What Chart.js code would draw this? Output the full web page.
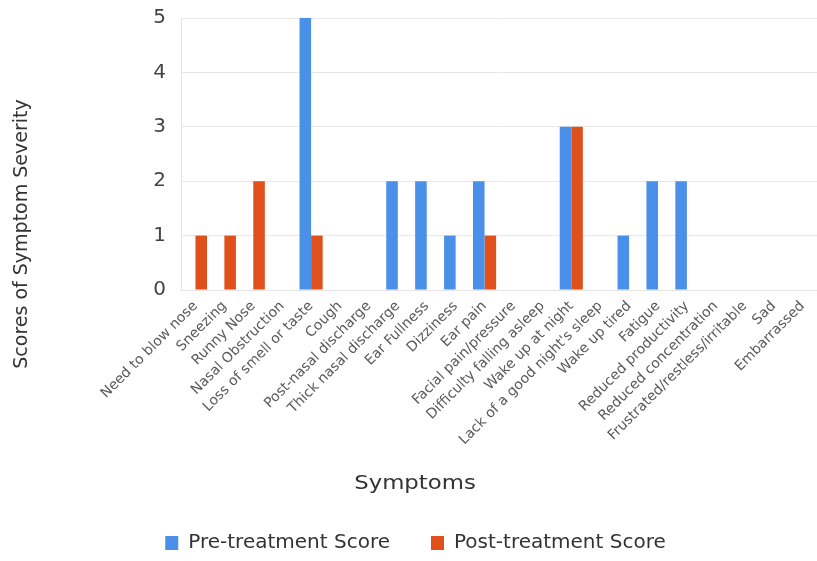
<!DOCTYPE html>
<html>
<head>
<meta charset="utf-8">
<script src="https://cdn.jsdelivr.net/npm/chart.js@4/dist/chart.umd.min.js"></script>
<style>
  html, body { margin: 0; padding: 0; background: #ffffff; }
  #wrap { width: 817px; height: 561px; position: relative; }
</style>
</head>
<body>
<div id="wrap"><canvas id="chart" width="817" height="561"></canvas></div>
<script>
// Symptom categories along the x axis
const symptoms = [
  "Need to blow nose", "Sneezing", "Runny Nose", "Nasal Obstruction",
  "Loss of smell or taste", "Cough", "Post-nasal discharge", "Thick nasal discharge",
  "Ear Fullness", "Dizziness", "Ear pain", "Facial pain/pressure",
  "Difficulty falling asleep", "Wake up at night", "Lack of a good night's sleep",
  "Wake up tired", "Fatigue", "Reduced productivity", "Reduced concentration",
  "Frustrated/restless/irritable", "Sad", "Embarrassed"
];

// Severity scores before and after treatment
const preTreatment  = [0, 0, 0, 0, 5, 0, 0, 2, 2, 1, 2, 0, 0, 3, 0, 1, 2, 2, 0, 0, 0, 0];
const postTreatment = [1, 1, 2, 0, 1, 0, 0, 0, 0, 0, 1, 0, 0, 3, 0, 0, 0, 0, 0, 0, 0, 0];

const yTicks = [0, 1, 2, 3, 4, 5];

const FONT = "'DejaVu Sans', 'Open Sans', sans-serif";

// Axis titles drawn as plain canvas text so they sit where the layout needs them
const axisTitles = {
  id: 'axisTitles',
  afterDraw(chart) {
    const ctx = chart.ctx;
    ctx.save();
    ctx.fillStyle = '#333333';
    ctx.font = '19px ' + FONT;
    ctx.textAlign = 'center';
    ctx.textBaseline = 'middle';
    ctx.save();
    ctx.translate(415, 484);
    ctx.scale(1.2, 1);
    ctx.fillText('Symptoms', 0, 0);
    ctx.restore();
    ctx.translate(22, 234);
    ctx.rotate(-Math.PI / 2);
    ctx.fillText('Scores of Symptom Severity', 0, 0);
    ctx.restore();
  }
};

new Chart(document.getElementById('chart'), {
  type: 'bar',
  data: {
    labels: symptoms,
    datasets: [
      {
        label: 'Pre-treatment Score',
        data: preTreatment,
        backgroundColor: '#4a8fe8',
        borderWidth: 0,
        categoryPercentage: 0.8,
        barPercentage: 1.0
      },
      {
        label: 'Post-treatment Score',
        data: postTreatment,
        backgroundColor: '#e0501a',
        borderWidth: 0,
        categoryPercentage: 0.8,
        barPercentage: 1.0
      }
    ]
  },
  options: {
    responsive: false,
    animation: false,
    devicePixelRatio: 1,
    layout: { padding: { top: 0, right: 0, bottom: -2, left: 14 } },
    plugins: {
      legend: {
        position: 'bottom',
        labels: {
          font: { family: FONT, size: 20 },
          color: '#333333',
          boxWidth: 13,
          boxHeight: 14,
          padding: 41,
          generateLabels(chart) {
            return chart.data.datasets.map((ds, i) => ({
              text: ds.label,
              fillStyle: ds.backgroundColor,
              strokeStyle: ds.backgroundColor,
              lineWidth: 0,
              hidden: false,
              datasetIndex: i,
              fontColor: '#333333'
            }));
          }
        }
      },
      tooltip: { enabled: false },
      title: { display: false }
    },
    scales: {
      x: {
        grid: { display: false },
        border: { display: true, color: '#e4e4e4' },
        ticks: {
          autoSkip: false,
          maxRotation: 45,
          minRotation: 45,
          font: { family: FONT, size: 14 },
          color: '#5a5a5a',
          padding: 0
        },
        afterFit(scale) { scale.height = 202; }
      },
      y: {
        min: 0,
        max: 5,
        afterBuildTicks(scale) { scale.ticks = yTicks.map(v => ({ value: v })); },
        grid: { color: '#e8e8e8', drawTicks: false },
        border: { display: true, color: '#e4e4e4' },
        ticks: {
          font: { family: FONT, size: 20 },
          color: '#444444',
          padding: 15
        },
        afterFit(scale) {
          scale.width = 167;
          scale.paddingTop = 18;
          scale.paddingBottom = 0;
        }
      }
    }
  },
  plugins: [axisTitles]
});
</script>
</body>
</html>
